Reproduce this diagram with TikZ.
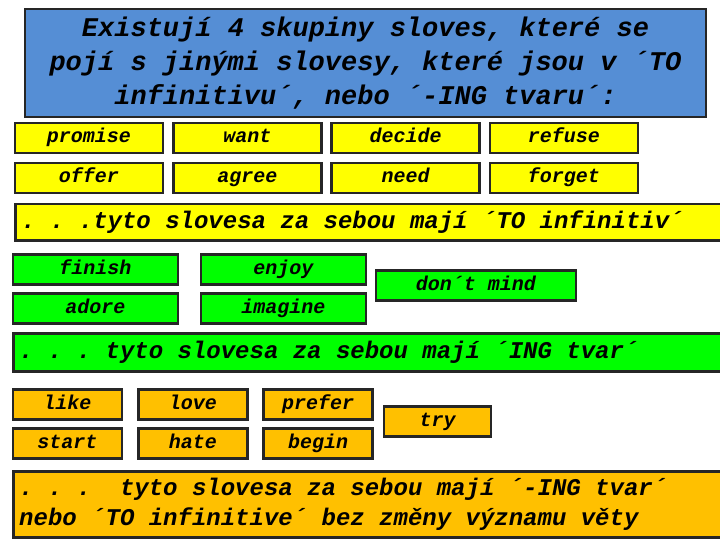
\documentclass[tikz,border=0pt]{standalone}
\usepackage{fontspec}
\setmainfont{Liberation Mono}
\usepackage{tikz}
\usetikzlibrary{positioning}
\definecolor{title}{HTML}{558ED5}
\definecolor{toverb}{HTML}{FFFF00}
\definecolor{ingverb}{HTML}{00FF00}
\definecolor{bothverb}{HTML}{FFC000}
\definecolor{edge}{HTML}{262626}

\tikzset{
  box/.style={draw=edge,line width=2.5pt,inner sep=0pt,font=\fontsize{20}{22}\selectfont\bfseries\itshape},
  verbbox/.style={box,minimum height=30pt,text height=13pt,text depth=4pt},
  barbox/.style={box,anchor=north west,align=flush left,inner xsep=6pt,text width=696pt,
    font=\fontsize{24}{30}\selectfont\bfseries\itshape}
}

\begin{document}
\begin{tikzpicture}[x=1pt,y=-1pt]
  \useasboundingbox (0,0) rectangle (720,540);

  % Title
  \node[box,fill=title,minimum width=681pt,minimum height=108pt,align=center,
    font=\fontsize{27}{34}\selectfont\bfseries\itshape] (head) at (365.5,63)
    {Existují 4 skupiny sloves, které se\\pojí s jinými slovesy, které jsou v ´TO\\infinitivu´, nebo ´-ING tvaru´:};

  % TO infinitive
  \foreach \w [count=\i] in {promise,want,decide,refuse}
    \node[verbbox,fill=toverb,minimum width=148pt] (toa\i) at ({89+158.3*(\i-1)},138) {\w};
  \foreach \w [count=\i] in {offer,agree,need,forget}
    \node[verbbox,fill=toverb,minimum width=148pt] (tob\i) at ({89+158.3*(\i-1)},178) {\w};
  \node[barbox,fill=toverb,minimum height=36pt] (tobar) at (14,203)
    {.~.~.tyto slovesa za sebou mají ´TO infinitiv´};

  % ING form
  \node[verbbox,fill=ingverb,minimum width=165pt] (finish) at (95.5,269.5) {finish};
  \node[verbbox,fill=ingverb,minimum width=165pt] (enjoy) at (283.5,269.5) {enjoy};
  \node[verbbox,fill=ingverb,minimum width=165pt] (adore) at (95.5,308.5) {adore};
  \node[verbbox,fill=ingverb,minimum width=165pt] (imagine) at (283.5,308.5) {imagine};
  \node[verbbox,fill=ingverb,minimum width=200pt] (mind) at (476,285.5) {don´t mind};
  \node[barbox,fill=ingverb,minimum height=38pt] (ingbar) at (12,332)
    {.~.~.~tyto slovesa za sebou mají ´ING tvar´};

  % both forms
  \foreach \w [count=\i] in {like,love,prefer}
    \node[verbbox,fill=bothverb,minimum width=109pt] (bta\i) at ({67.5+125.3*(\i-1)},404.5) {\w};
  \foreach \w [count=\i] in {start,hate,begin}
    \node[verbbox,fill=bothverb,minimum width=109pt] (btb\i) at ({67.5+125.3*(\i-1)},443.5) {\w};
  \node[verbbox,fill=bothverb,minimum width=107pt] (try) at (437.5,421.5) {try};
  \node[barbox,fill=bothverb,minimum height=66pt] (bothbar) at (12,470)
    {.~.~.~~tyto slovesa za sebou mají ´-ING tvar´\\nebo ´TO infinitive´ bez změny významu věty};
\end{tikzpicture}
\end{document}
